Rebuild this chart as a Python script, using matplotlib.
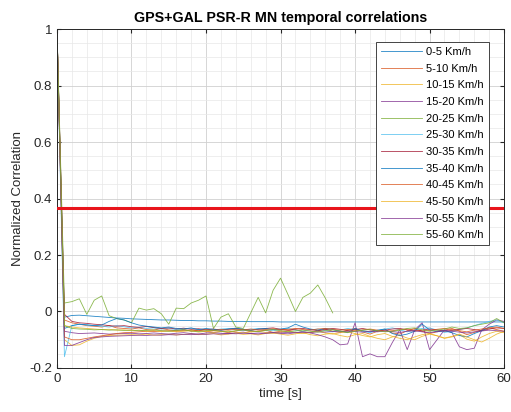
import numpy as np
import matplotlib
matplotlib.use("Agg")
import matplotlib.pyplot as plt
from matplotlib.ticker import MultipleLocator

plt.rcParams["font.family"] = ["Liberation Sans", "DejaVu Sans"]

# one sample per second
time_s = np.arange(61)

speed_labels = ["0-5 Km/h", "5-10 Km/h", "10-15 Km/h", "15-20 Km/h", "20-25 Km/h",
                "25-30 Km/h", "30-35 Km/h", "35-40 Km/h", "40-45 Km/h", "45-50 Km/h",
                "50-55 Km/h", "55-60 Km/h"]

corr_0_5 = [1.0, -0.02, -0.014, -0.013, -0.015, -0.017, -0.019, -0.021, -0.023, -0.024,
            -0.026, -0.027, -0.028, -0.029, -0.03, -0.03, -0.031, -0.032, -0.032, -0.033,
            -0.033, -0.034, -0.034, -0.035, -0.035, -0.035, -0.036, -0.036, -0.036, -0.036,
            -0.037, -0.037, -0.037, -0.037, -0.037, -0.037, -0.037, -0.037, -0.037, -0.037,
            -0.037, -0.037, -0.037, -0.037, -0.037, -0.037, -0.037, -0.037, -0.037, -0.037,
            -0.037, -0.037, -0.037, -0.037, -0.037, -0.037, -0.037, -0.037, -0.037, -0.037,
            -0.037]
corr_5_10 = [1.0, -0.03, -0.04, -0.045, -0.05, -0.052, -0.055, -0.05, -0.058, -0.06,
             -0.062, -0.058, -0.064, -0.066, -0.06, -0.065, -0.068, -0.063, -0.07, -0.066,
             -0.072, -0.068, -0.07, -0.075, -0.069, -0.065, -0.072, -0.07, -0.066, -0.074,
             -0.07, -0.068, -0.064, -0.072, -0.075, -0.068, -0.062, -0.07, -0.074, -0.066,
             -0.06, -0.072, -0.08, -0.07, -0.064, -0.076, -0.08, -0.068, -0.06, -0.07,
             -0.078, -0.072, -0.066, -0.06, -0.07, -0.082, -0.074, -0.066, -0.058, -0.064,
             -0.07]
corr_10_15 = [1.0, -0.1, -0.12, -0.118, -0.105, -0.095, -0.088, -0.085, -0.084, -0.083,
              -0.082, -0.083, -0.08, -0.084, -0.082, -0.08, -0.083, -0.081, -0.079, -0.082,
              -0.08, -0.078, -0.083, -0.08, -0.077, -0.081, -0.079, -0.083, -0.078, -0.076,
              -0.08, -0.084, -0.079, -0.075, -0.082, -0.086, -0.08, -0.078, -0.085, -0.09,
              -0.082, -0.078, -0.088, -0.095, -0.1, -0.09, -0.084, -0.094, -0.1, -0.088,
              -0.08, -0.086, -0.095, -0.09, -0.082, -0.098, -0.105, -0.09, -0.078, -0.07,
              -0.075]
corr_15_20 = [1.0, -0.07, -0.075, -0.078, -0.077, -0.076, -0.078, -0.08, -0.079, -0.078,
              -0.077, -0.079, -0.078, -0.076, -0.078, -0.08, -0.077, -0.075, -0.078, -0.08,
              -0.076, -0.074, -0.077, -0.079, -0.075, -0.073, -0.078, -0.08, -0.076, -0.074,
              -0.077, -0.079, -0.075, -0.072, -0.076, -0.082, -0.09, -0.1, -0.118, -0.115,
              -0.04, -0.16, -0.15, -0.16, -0.16, -0.11, -0.065, -0.135, -0.065, -0.04,
              -0.135, -0.1, -0.065, -0.075, -0.125, -0.135, -0.13, -0.065, -0.045, -0.03,
              -0.035]
corr_20_25 = [1.0, 0.03, 0.035, 0.045, -0.01, 0.04, 0.055, -0.015, -0.025, -0.03,
              -0.04, 0.012, 0.005, 0.01, -0.008, -0.045, 0.012, 0.01, 0.03, 0.04,
              0.055, -0.06, -0.02, -0.008, -0.055, -0.06, -0.005, 0.05, -0.005, 0.075,
              0.118, 0.06, 0.0, 0.05, 0.065, 0.094, 0.048, -0.005]
corr_25_30 = [1.0, -0.16, -0.05, -0.045, -0.048, -0.05, -0.052, -0.055, -0.05, -0.054,
              -0.058, -0.056, -0.06, -0.058, -0.062, -0.06, -0.064, -0.062, -0.06, -0.065,
              -0.063, -0.066, -0.062, -0.06, -0.064, -0.067, -0.063, -0.06, -0.065, -0.068,
              -0.064, -0.06, -0.066, -0.07, -0.065, -0.062, -0.068, -0.072, -0.066, -0.06,
              -0.064, -0.07, -0.075, -0.068, -0.062, -0.058, -0.065, -0.072, -0.066, -0.06,
              -0.058, -0.066, -0.074, -0.07, -0.064, -0.058, -0.05, -0.042, -0.035, -0.03,
              -0.04]
corr_30_35 = [1.0, -0.01, -0.035, -0.04, -0.042, -0.045, -0.047, -0.05, -0.052, -0.05,
              -0.054, -0.056, -0.053, -0.057, -0.06, -0.058, -0.062, -0.059, -0.063, -0.061,
              -0.065, -0.062, -0.066, -0.063, -0.06, -0.064, -0.067, -0.063, -0.06, -0.058,
              -0.063, -0.066, -0.062, -0.06, -0.064, -0.068, -0.064, -0.06, -0.063, -0.067,
              -0.064, -0.06, -0.065, -0.069, -0.066, -0.062, -0.06, -0.065, -0.07, -0.066,
              -0.062, -0.065, -0.07, -0.067, -0.063, -0.06, -0.064, -0.068, -0.062, -0.058,
              -0.06]
corr_35_40 = [1.0, -0.06, -0.05, -0.045, -0.047, -0.05, -0.048, -0.035, -0.025, -0.03,
              -0.04, -0.048, -0.052, -0.055, -0.058, -0.055, -0.06, -0.062, -0.058, -0.064,
              -0.06, -0.063, -0.066, -0.062, -0.059, -0.063, -0.066, -0.062, -0.06, -0.064,
              -0.062, -0.058, -0.045, -0.055, -0.062, -0.066, -0.06, -0.064, -0.07, -0.075,
              -0.06, -0.068, -0.072, -0.066, -0.062, -0.078, -0.085, -0.08, -0.07, -0.045,
              -0.065, -0.072, -0.068, -0.075, -0.085, -0.09, -0.078, -0.068, -0.055, -0.05,
              -0.055]
corr_40_45 = [1.0, -0.09, -0.1, -0.1, -0.095, -0.09, -0.086, -0.082, -0.078, -0.075,
              -0.074, -0.072, -0.07, -0.071, -0.069, -0.068, -0.07, -0.067, -0.066, -0.068,
              -0.065, -0.067, -0.064, -0.066, -0.063, -0.065, -0.062, -0.066, -0.064, -0.061,
              -0.065, -0.063, -0.06, -0.064, -0.066, -0.062, -0.06, -0.063, -0.066, -0.064,
              -0.068, -0.065, -0.062, -0.066, -0.07, -0.068, -0.064, -0.062, -0.066, -0.07,
              -0.067, -0.063, -0.06, -0.064, -0.068, -0.072, -0.066, -0.062, -0.058, -0.055,
              -0.06]
corr_45_50 = [1.0, -0.05, -0.055, -0.058, -0.06, -0.062, -0.064, -0.063, -0.066, -0.065,
              -0.068, -0.066, -0.07, -0.068, -0.071, -0.069, -0.072, -0.07, -0.068, -0.073,
              -0.07, -0.074, -0.071, -0.069, -0.073, -0.076, -0.072, -0.07, -0.074, -0.077,
              -0.073, -0.07, -0.075, -0.078, -0.074, -0.07, -0.076, -0.08, -0.075, -0.072,
              -0.078, -0.085, -0.09, -0.082, -0.078, -0.088, -0.095, -0.1, -0.09, -0.082,
              -0.078, -0.086, -0.094, -0.088, -0.08, -0.09, -0.1, -0.108, -0.095, -0.08,
              -0.07]
corr_50_55 = [1.0, -0.12, -0.12, -0.11, -0.1, -0.092, -0.09, -0.088, -0.087, -0.086,
              -0.085, -0.084, -0.085, -0.083, -0.084, -0.082, -0.083, -0.081, -0.082, -0.08,
              -0.081, -0.079, -0.08, -0.078, -0.079, -0.077, -0.078, -0.076, -0.077, -0.075,
              -0.076, -0.074, -0.075, -0.073, -0.074, -0.072, -0.073, -0.071, -0.072, -0.07,
              -0.071, -0.073, -0.07, -0.072, -0.069, -0.071, -0.074, -0.07, -0.068, -0.072,
              -0.075, -0.071, -0.068, -0.07, -0.073, -0.076, -0.072, -0.069, -0.066, -0.068,
              -0.07]
corr_55_60 = [1.0, -0.05, -0.06, -0.062, -0.063, -0.065, -0.064, -0.066, -0.065, -0.067,
              -0.066, -0.068, -0.067, -0.065, -0.068, -0.07, -0.067, -0.065, -0.069, -0.071,
              -0.068, -0.066, -0.07, -0.072, -0.068, -0.065, -0.069, -0.071, -0.067, -0.064,
              -0.068, -0.072, -0.069, -0.066, -0.07, -0.073, -0.068, -0.065, -0.07, -0.074,
              -0.07, -0.066, -0.064, -0.068, -0.072, -0.07, -0.066, -0.06, -0.058, -0.065,
              -0.07, -0.066, -0.062, -0.055, -0.06, -0.058, -0.05, -0.045, -0.04, -0.025,
              -0.04]

all_series = [corr_0_5, corr_5_10, corr_10_15, corr_15_20, corr_20_25, corr_25_30,
              corr_30_35, corr_35_40, corr_40_45, corr_45_50, corr_50_55, corr_55_60]

# 1/e decorrelation threshold
threshold = np.exp(-1)

# MATLAB default colour order, cycling
matlab_colors = ["#0072BD", "#D95319", "#EDB120", "#7E2F8E", "#77AC30", "#4DBEEE", "#A2142F"]

fig = plt.figure(figsize=(5.11, 4.12), dpi=100)
ax = fig.add_axes([0.1115, 0.1068, 0.875, 0.8228])

for i, (vals, lab) in enumerate(zip(all_series, speed_labels)):
    ax.plot(time_s[:len(vals)], vals, color=matlab_colors[i % 7], linewidth=0.6,
            alpha=0.85, label=lab)

ax.axhline(threshold, color="#E8141C", linewidth=2.2, zorder=5)

ax.set_xlim(0, 60)
ax.set_ylim(-0.2, 1)
ax.xaxis.set_major_locator(MultipleLocator(10))
ax.xaxis.set_minor_locator(MultipleLocator(2))
ax.yaxis.set_major_locator(MultipleLocator(0.2))
ax.yaxis.set_minor_locator(MultipleLocator(0.05))
ax.set_yticks([-0.2, 0, 0.2, 0.4, 0.6, 0.8, 1])
ax.set_yticklabels(["-0.2", "0", "0.2", "0.4", "0.6", "0.8", "1"])

ax.grid(True, which="major", color="#d0d0d0", linewidth=0.6)
ax.grid(True, which="minor", color="#e8e8e8", linewidth=0.5)
ax.set_axisbelow(True)
ax.tick_params(which="both", direction="in", top=True, right=True,
               labelsize=9.5, colors="#262626", length=3)
ax.tick_params(which="minor", length=0)
for sp in ax.spines.values():
    sp.set_color("#262626")
    sp.set_linewidth(0.7)

ax.set_title("GPS+GAL PSR-R MN temporal correlations", fontsize=10.3,
             fontweight="bold", pad=5)
ax.set_xlabel("time [s]", fontsize=9.5, color="#262626", labelpad=2)
ax.set_ylabel("Normalized Correlation", fontsize=9.5, color="#262626", labelpad=4)

leg = ax.legend(loc="upper right", bbox_to_anchor=(0.966, 0.962), fontsize=8.0,
                fancybox=False, framealpha=1, edgecolor="#262626",
                handlelength=3.7, handletextpad=0.35, labelspacing=0.6,
                borderpad=0.45, borderaxespad=0)
leg.get_frame().set_linewidth(0.6)

fig.savefig("out.png", dpi=100)
